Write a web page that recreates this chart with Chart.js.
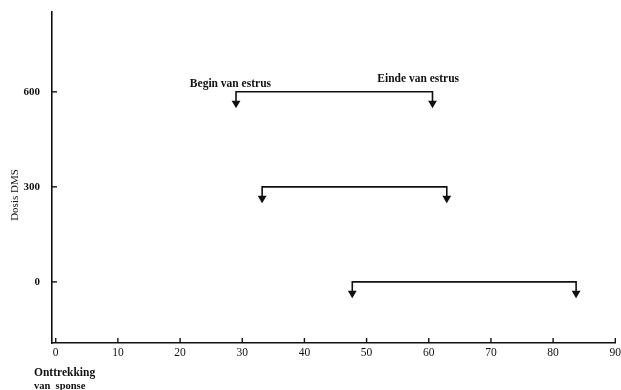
<!DOCTYPE html>
<html>
<head>
<meta charset="utf-8">
<script src="https://cdn.jsdelivr.net/npm/chart.js@4"></script>
<style>
  html, body { margin: 0; padding: 0; background: #fff; }
  #wrap { width: 621px; height: 390px; }
</style>
</head>
<body>
<div id="wrap"><canvas id="c"></canvas></div>
<script>
// dosis DMS en begin/einde van estrus (dagen na onttrekking van spons)
const doses = [600, 300, 0];
const startDay = [29, 33.2, 47.7];
const endDay = [60.6, 62.9, 83.7];
const drop = 36;

const xTicks = [0, 10, 20, 30, 40, 50, 60, 70, 80, 90];
const yTicks = [0, 300, 600];

const noteText = ['Begin van estrus', 'Einde van estrus'];
const noteX = [28.1, 58.3];
const noteY = [625, 640];

const ink = '#111';
const serif = '"Liberation Serif", "DejaVu Serif", serif';

const datasets = doses.map((d, i) => ({
    data: [
        { x: startDay[i], y: d - drop },
        { x: startDay[i], y: d },
        { x: endDay[i], y: d },
        { x: endDay[i], y: d - drop },
    ],
    borderColor: ink,
    backgroundColor: ink,
    borderWidth: 1.6,
    pointStyle: 'triangle',
    pointRotation: 180,
    pointRadius: [3.5, 0, 0, 3.5],
    pointHoverRadius: [3.5, 0, 0, 3.5],
    tension: 0,
    fill: false,
}));

// korte streepjes naar binnen, teksten
const extras = {
    id: 'extras',
    afterDraw(chart) {
        const { ctx, chartArea: a, scales: { x, y } } = chart;
        ctx.save();
        ctx.strokeStyle = ink;
        ctx.lineWidth = 1.4;
        xTicks.forEach(v => {
            const px = x.getPixelForValue(v);
            ctx.beginPath();
            ctx.moveTo(px, a.bottom);
            ctx.lineTo(px, a.bottom - 5);
            ctx.stroke();
        });
        yTicks.forEach(v => {
            const py = y.getPixelForValue(v);
            ctx.beginPath();
            ctx.moveTo(a.left, py);
            ctx.lineTo(a.left + 5, py);
            ctx.stroke();
        });

        ctx.fillStyle = ink;
        ctx.font = 'bold 11.5px ' + serif;
        ctx.textAlign = 'center';
        ctx.textBaseline = 'middle';
        noteText.forEach((t, i) => {
            ctx.fillText(t, x.getPixelForValue(noteX[i]), y.getPixelForValue(noteY[i]));
        });

        ctx.textAlign = 'left';
        ctx.font = 'bold 11.5px ' + serif;
        ctx.fillText('Onttrekking', a.left - 18, 373);
        ctx.font = 'bold 10.5px ' + serif;
        ctx.fillText('van  sponse', a.left - 18, 386);

        ctx.translate(15, 195);
        ctx.rotate(-Math.PI / 2);
        ctx.textAlign = 'center';
        ctx.font = '11px ' + serif;
        ctx.fillText('Dosis DMS', 0, 0);
        ctx.restore();
    },
};

new Chart(document.getElementById('c'), {
    type: 'line',
    data: { datasets },
    options: {
        responsive: true,
        maintainAspectRatio: false,
        animation: false,
        events: [],
        layout: { padding: { top: 12, right: 0, left: 0, bottom: 0 } },
        plugins: {
            legend: { display: false },
            tooltip: { enabled: false },
        },
        scales: {
            x: {
                type: 'linear',
                min: -0.6,
                max: 90.1,
                afterBuildTicks: s => { s.ticks = xTicks.map(v => ({ value: v })); },
                afterFit: s => { s.height = 47; s.paddingLeft = 0; s.paddingRight = 0; },
                grid: { display: false, drawTicks: false },
                border: { display: true, color: ink, width: 1.6 },
                ticks: { color: ink, padding: 3, font: { family: serif, size: 11.5 } },
            },
            y: {
                min: -193,
                max: 852,
                afterBuildTicks: s => { s.ticks = yTicks.map(v => ({ value: v })); },
                afterFit: s => { s.width = 52; s.paddingTop = 0; s.paddingBottom = 0; },
                grid: { display: false, drawTicks: false },
                border: { display: true, color: ink, width: 1.6 },
                ticks: { color: ink, padding: 12, font: { family: serif, size: 11, weight: 'bold' } },
            },
        },
    },
    plugins: [extras],
});
</script>
</body>
</html>
